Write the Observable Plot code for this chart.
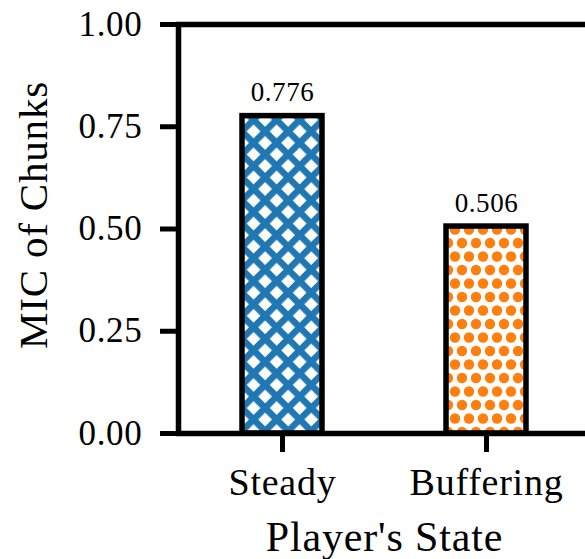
<!DOCTYPE html>
<html>
<head>
<meta charset="utf-8">
<script src="https://cdn.jsdelivr.net/npm/d3@7"></script>
<script src="https://cdn.jsdelivr.net/npm/@observablehq/plot@0.6"></script>
<style>
  html, body { margin: 0; padding: 0; background: #fff; overflow: hidden; }
  #chart svg { max-width: none !important; }
  #chart svg text { letter-spacing: 0.02em; }
</style>
</head>
<body>
<div id="chart"></div>
<script>
// ---- data ----
const states = ["Steady", "Buffering"];
const micValues = [0.776, 0.506];
const yTicks = [0, 0.25, 0.5, 0.75, 1];
const xTitle = "Player's State";
const yTitle = "MIC of Chunks";

const data = states.map((s, i) => ({state: s, mic: micValues[i]}));

// ---- styles ----
const patternFor = {Steady: "url(#hatch-x)", Buffering: "url(#hatch-o)"};
const font = "'Liberation Serif', 'Times New Roman', serif";

const chart = Plot.plot({
  width: 593,
  height: 559,
  marginLeft: 178,
  marginRight: 3,
  marginTop: 24,
  marginBottom: 126,
  style: {fontFamily: font, color: "#000", background: "#fff", overflow: "visible", maxWidth: "none"},
  x: {domain: states, paddingInner: 0.61, paddingOuter: 0.31, align: 0.5},
  y: {domain: [0, 1]},
  marks: [
    Plot.barY(data, {
      x: "state", y: "mic",
      fill: d => patternFor[d.state],
      stroke: "#000", strokeWidth: 5.5
    }),
    Plot.text(data, {
      x: "state", y: "mic",
      text: d => d3.format(".3f")(d.mic),
      lineAnchor: "bottom", dy: -15, fontSize: 27, fill: "#000"
    }),
    Plot.frame({stroke: "#000", strokeWidth: 5.5}),
    Plot.axisY({
      ticks: yTicks, tickFormat: d3.format(".2f"),
      tickSize: 18, tickPadding: 18, strokeWidth: 5, fontSize: 35, label: null
    }),
    Plot.axisX({
      tickSize: 19, tickPadding: 16, strokeWidth: 5, fontSize: 38, label: null
    }),
    Plot.text([xTitle], {
      frameAnchor: "bottom", text: d => d, lineAnchor: "bottom", textAnchor: "middle",
      dy: 117, fontSize: 42, fill: "#000"
    }),
    Plot.text([yTitle], {
      frameAnchor: "left", text: d => d, rotate: -90, lineAnchor: "bottom", textAnchor: "middle",
      dx: -132, dy: -14, fontSize: 41, fill: "#000"
    })
  ]
});

// pattern definitions (hatches)
const defs = d3.create("svg:defs");
const cell = 16.3, lw = 6.5;
const px = defs.append("pattern")
  .attr("id", "hatch-x").attr("patternUnits", "userSpaceOnUse")
  .attr("width", cell).attr("height", cell)
  .attr("patternTransform", "rotate(45)");
px.append("rect").attr("width", cell).attr("height", cell).attr("fill", "#fff");
px.append("rect").attr("width", cell).attr("height", lw).attr("fill", "#1f77b4");
px.append("rect").attr("width", lw).attr("height", cell).attr("fill", "#1f77b4");

const dw = 14, dh = 27;
const po = defs.append("pattern")
  .attr("id", "hatch-o").attr("patternUnits", "userSpaceOnUse")
  .attr("width", dw).attr("height", dh);
po.append("rect").attr("width", dw).attr("height", dh).attr("fill", "#fff");
[[0, 0], [dw, 0], [0, dh], [dw, dh], [dw / 2, dh / 2]].forEach(([cx, cy]) => {
  po.append("circle").attr("cx", cx).attr("cy", cy).attr("r", 5.2).attr("fill", "#ff7f0e");
});
chart.insertBefore(defs.node(), chart.firstChild);

document.getElementById("chart").appendChild(chart);
</script>
</body>
</html>
